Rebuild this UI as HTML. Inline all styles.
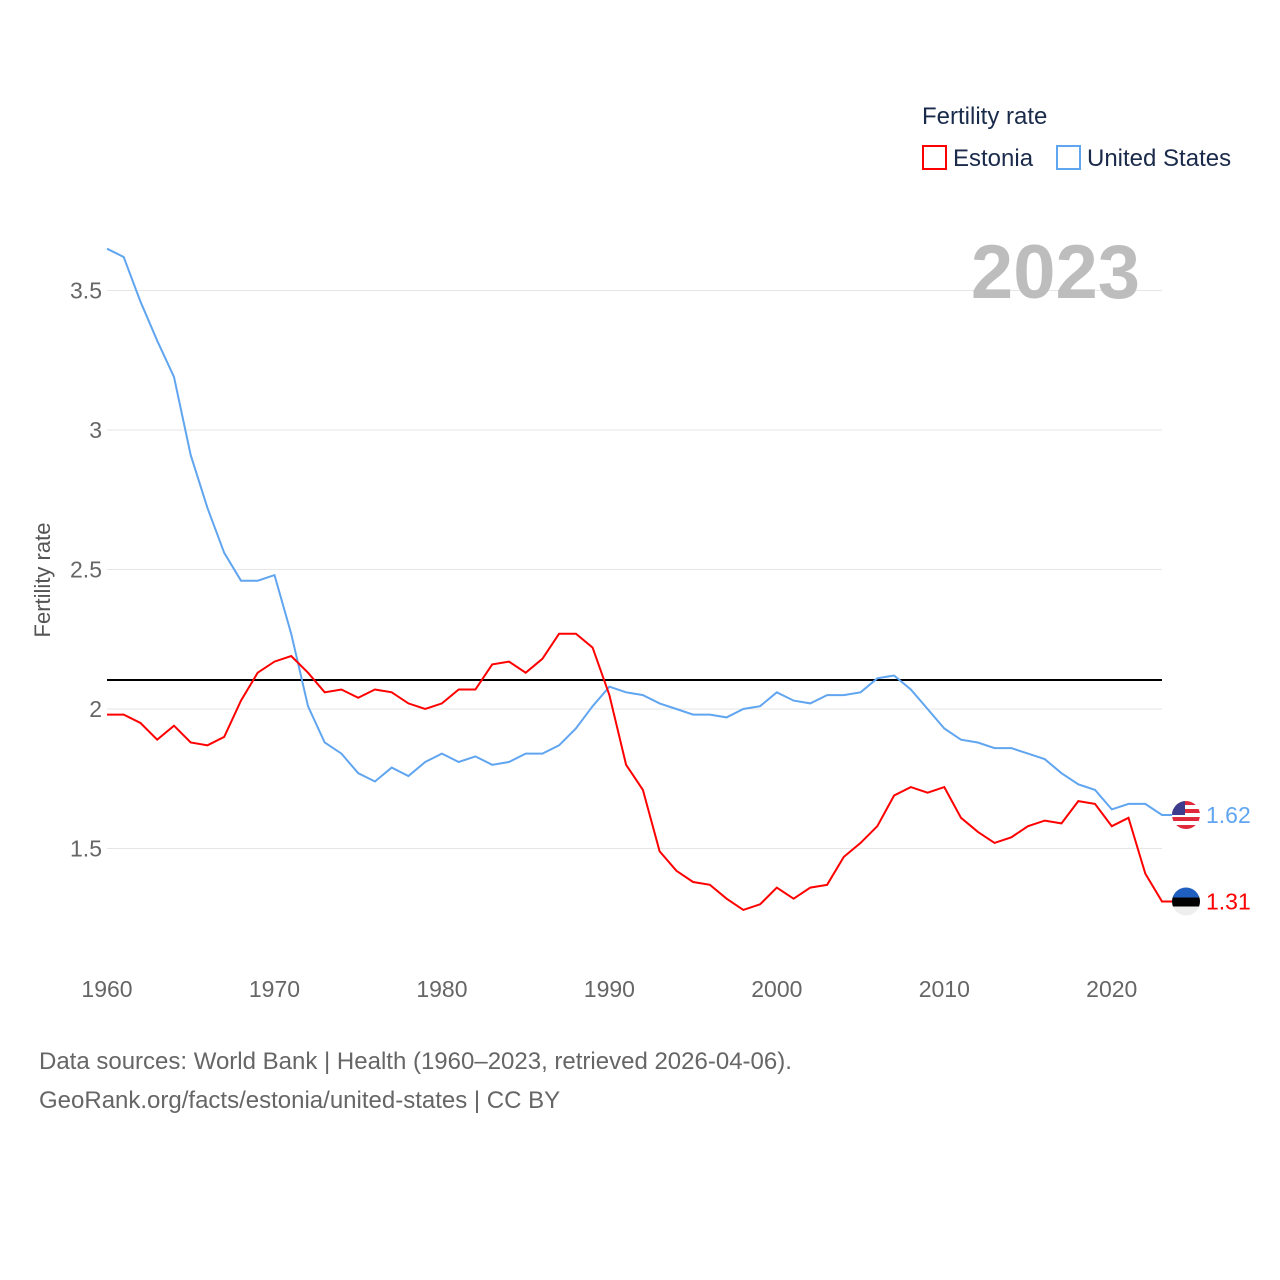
<!DOCTYPE html>
<html><head><meta charset="utf-8"><style>
body{margin:0;background:#fff;}
svg{display:block;font-family:"Liberation Sans",sans-serif;}
</style></head><body>
<svg id="chart" width="1280" height="1280" viewBox="0 0 1280 1280">
<defs>
<clipPath id="cpUS"><circle cx="1186" cy="0" r="14"/></clipPath>
<clipPath id="cpEE"><circle cx="1186" cy="0" r="14"/></clipPath>
</defs>
<g id="grid"></g>
<g id="yticks"></g>
<g id="xticks"></g>
<text x="1140" y="298" text-anchor="end" font-size="76" font-weight="bold" fill="#bdbdbd">2023</text>
<line x1="107" x2="1162" y1="680" y2="680" stroke="#000" stroke-width="2"/>
<g id="series"></g>
<text transform="translate(50,580) rotate(-90)" text-anchor="middle" font-size="22" fill="#555">Fertility rate</text>
<text x="922" y="124" font-size="24" fill="#1a2a4a">Fertility rate</text>
<g><rect x="923" y="146" width="23" height="23" fill="none" stroke="#ff0000" stroke-width="2"/><text x="953" y="166" font-size="24" fill="#1a2a4a">Estonia</text></g>
<g><rect x="1057" y="146" width="23" height="23" fill="none" stroke="#60a5f0" stroke-width="2"/><text x="1087" y="166" font-size="24" fill="#1a2a4a">United States</text></g>
<text x="39" y="1069" font-size="24" fill="#666">Data sources: World Bank | Health (1960–2023, retrieved 2026-04-06).</text>
<text x="39" y="1108" font-size="24" fill="#666">GeoRank.org/facts/estonia/united-states | CC BY</text>
</svg>
<script>
const years=[];for(let y=1960;y<=2023;y++)years.push(y);
const usValues=[3.65,3.62,3.46,3.32,3.19,2.91,2.72,2.56,2.46,2.46,2.48,2.27,2.01,1.88,1.84,1.77,1.74,1.79,1.76,1.81,1.84,1.81,1.83,1.80,1.81,1.84,1.84,1.87,1.93,2.01,2.08,2.06,2.05,2.02,2.00,1.98,1.98,1.97,2.00,2.01,2.06,2.03,2.02,2.05,2.05,2.06,2.11,2.12,2.07,2.00,1.93,1.89,1.88,1.86,1.86,1.84,1.82,1.77,1.73,1.71,1.64,1.66,1.66,1.62];
const estoniaValues=[1.98,1.98,1.95,1.89,1.94,1.88,1.87,1.90,2.03,2.13,2.17,2.19,2.13,2.06,2.07,2.04,2.07,2.06,2.02,2.00,2.02,2.07,2.07,2.16,2.17,2.13,2.18,2.27,2.27,2.22,2.05,1.80,1.71,1.49,1.42,1.38,1.37,1.32,1.28,1.30,1.36,1.32,1.36,1.37,1.47,1.52,1.58,1.69,1.72,1.70,1.72,1.61,1.56,1.52,1.54,1.58,1.60,1.59,1.67,1.66,1.58,1.61,1.41,1.31];
const yTicks=[1.5,2,2.5,3,3.5];
const yTickLabels=["1.5","2","2.5","3","3.5"];
const xTicks=[1960,1970,1980,1990,2000,2010,2020];
const NS="http://www.w3.org/2000/svg";
const X=y=>107+(y-1960)*(1055/63);
const Y=v=>709-(v-2)*279;
function mk(t,a,p){const e=document.createElementNS(NS,t);for(const k in a)e.setAttribute(k,a[k]);p.appendChild(e);return e;}
const grid=document.getElementById('grid'),yt=document.getElementById('yticks'),xt=document.getElementById('xticks'),ser=document.getElementById('series');
yTicks.forEach((v,i)=>{
 const l=mk('line',{x1:107,x2:1162,y1:Y(v),y2:Y(v),stroke:'#e6e6e6','stroke-width':1},grid);
 
 
 const t=mk('text',{x:102,y:Y(v)+8,'text-anchor':'end','font-size':23,fill:'#666'},yt);t.textContent=yTickLabels[i];
 
 
});
xTicks.forEach(y=>{
 const t=mk('text',{x:X(y),y:997,'text-anchor':'middle','font-size':23,fill:'#666'},xt);t.textContent=y;
 
 
});
function line(vals,color,name,flag){
 let d=vals.map((v,i)=>(i?'L':'M')+X(years[i]).toFixed(1)+','+Y(v).toFixed(1)).join('');
 const lv=vals[vals.length-1],cy=Y(lv);
 d+='L1172,'+cy.toFixed(1);
 const p=mk('path',{d:d,fill:'none',stroke:color,'stroke-width':2},ser);
 
 
 const cp=document.getElementById(flag==='us'?'cpUS':'cpEE').firstElementChild;cp.setAttribute('cy',cy);
 const g=mk('g',{'clip-path':'url(#'+(flag==='us'?'cpUS':'cpEE')+')'},ser);
 
 
 if(flag==='us'){
  for(let k=0;k<7;k++){mk('rect',{x:1172,y:cy-14+k*4,width:28,height:4,fill:k%2?'#fff':'#e0283a'},g);}
  mk('rect',{x:1172,y:cy-14,width:13,height:14,fill:'#3c3b8e'},g);
 }else{
  mk('rect',{x:1172,y:cy-14,width:28,height:10,fill:'#1f5fbf'},g);
  mk('rect',{x:1172,y:cy-4,width:28,height:9,fill:'#000'},g);
  mk('rect',{x:1172,y:cy+5,width:28,height:9,fill:'#eee'},g);
 }
 const t=mk('text',{x:1206,y:cy+8,'font-size':23,fill:color},ser);t.textContent=lv.toFixed(2);
 
 
}
line(usValues,'#60a5f0','us-line','us');
line(estoniaValues,'#ff0000','estonia-line','ee');
</script>
</body></html>
